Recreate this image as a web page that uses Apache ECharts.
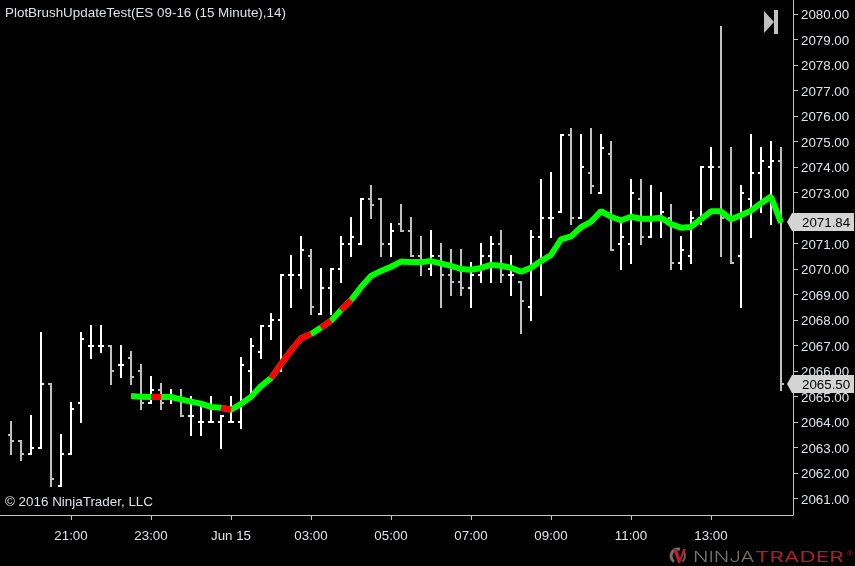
<!DOCTYPE html>
<html><head><meta charset="utf-8">
<style>html,body{margin:0;padding:0;background:#000}#c{width:855px;height:566px}</style>
<script src="https://cdn.jsdelivr.net/npm/echarts@6/dist/echarts.min.js"></script>
</head><body><div id="c"></div>
<script>
const opens=[2063.5,2063.25,2062.75,2063,2065.5,2061.5,2062.75,2064.75,2067,2067,2067,2066.25,2066.5,2066,2064.75,2065.25,2065,2065,2064.25,2064,2064,2064,2064,2064,2066,2066.75,2067.75,2068,2069.75,2069.75,2070.5,2068.25,2069.25,2070,2071,2071,2072.75,2072.75,2071,2071.75,2071.5,2070.5,2070,2070.5,2069.75,2069.5,2069.25,2069.75,2070.5,2071,2069.75,2069.5,2068.5,2071.25,2072,2072.25,2075.25,2072,2073.75,2073,2074.5,2071,2071,2072.75,2071.25,2072,2072,2070.25,2070.5,2072,2074,2074,2072,2070.5,2072.75,2073.75,2074,2074.25];
const highs=[2064,2063.25,2064.25,2067.5,2065.5,2063.5,2064.75,2067.5,2067.75,2067.75,2067,2067,2066.75,2066.25,2065.75,2065.5,2065.25,2065.25,2065,2064.75,2065,2064.25,2065,2066.5,2067.25,2067.75,2068.25,2069.75,2070.5,2071.25,2070.75,2070,2070,2071.25,2072,2072.75,2073.25,2072.75,2071.75,2072.5,2072,2071.25,2071.5,2071,2070.75,2070.75,2070.25,2071,2071.25,2071.5,2070.5,2069.5,2071.5,2073.5,2073.75,2075.25,2075.5,2075.25,2075.5,2075.25,2075,2072,2073.5,2073.5,2073.25,2073,2072.5,2071.25,2072.25,2074,2074.75,2079.5,2074.75,2073.25,2075.25,2074.75,2075,2074.75];
const lows=[2062.75,2062.5,2062.75,2063,2061.5,2061.5,2062.75,2064,2066.5,2066.75,2065.5,2065.75,2065.5,2064.5,2064.75,2064.5,2064.75,2064.25,2063.5,2063.5,2064,2063,2064,2063.75,2065,2066.5,2067.25,2066,2068.5,2069.25,2068.25,2068.25,2068.25,2069.5,2070.5,2071,2072,2070.5,2070.5,2071.5,2070.5,2069.75,2069.75,2068.5,2069,2069,2068.5,2069.5,2069.5,2069.5,2069,2067.5,2068,2069,2071.25,2072.25,2071.75,2072,2073,2073,2070.75,2070,2070.25,2071,2071.25,2071.25,2070,2070,2070.25,2071.75,2072.75,2070.5,2070.25,2068.5,2071.25,2072.25,2071.75,2065.25];
const closes=[2063.25,2062.75,2063,2065.5,2061.75,2062.75,2064.5,2067.25,2067,2067,2066,2066.25,2065.75,2064.75,2065.25,2064.75,2065,2064.25,2064.25,2064,2064,2064.25,2064,2066.25,2067,2067.75,2068,2069.75,2069.75,2070.75,2068.5,2069.25,2070,2071,2071.25,2072.75,2072.5,2071,2071.5,2071.5,2070.5,2070.25,2070.5,2069.75,2069.5,2069.25,2069.75,2070.5,2071,2069.75,2069.75,2068.75,2071.25,2072,2072,2075.25,2072,2074,2073.25,2074.75,2070.75,2071.25,2073,2071.25,2072,2072.25,2070.25,2070.75,2072,2074,2074,2072,2070.25,2073,2073.75,2074.25,2074.25,2065.5];
const smaStart=12;
const smaValues=[2065.02,2064.99,2064.98,2064.98,2064.98,2064.89,2064.80,2064.72,2064.59,2064.56,2064.48,2064.71,2064.99,2065.41,2065.72,2066.27,2066.80,2067.28,2067.45,2067.70,2067.97,2068.39,2068.78,2069.29,2069.73,2069.92,2070.09,2070.29,2070.27,2070.27,2070.31,2070.22,2070.12,2070.00,2069.97,2070.04,2070.16,2070.13,2070.05,2069.89,2070.05,2070.31,2070.55,2071.16,2071.28,2071.64,2071.85,2072.27,2072.05,2071.91,2072.05,2071.97,2071.97,2072.01,2071.76,2071.62,2071.65,2071.96,2072.26,2072.26,2071.95,2072.11,2072.29,2072.58,2072.84,2071.82];
const redSegmentEnds=[15,22,27,28,29,30,32,34];
const xTickIndex=[6,14,22,30,38,46,54,62,70];
const xTickLabels=['21:00','23:00','Jun 15','03:00','05:00','07:00','09:00','11:00','13:00'];
const priceTicks=[2061,2062,2063,2064,2065,2066,2067,2068,2069,2070,2071,2072,2073,2074,2075,2076,2077,2078,2079,2080];
const markerPrices=[2071.84,2065.50];
const titleText='PlotBrushUpdateTest(ES 09-16 (15 Minute),14)';
const copyrightText='© 2016 NinjaTrader, LLC';

const FONT='"Liberation Sans", Arial, sans-serif';
const TXT='#dfe3e8', AXIS='#c4c4c4', GRAY='#c0c0c0', GREEN='#00ff00', RED='#ff0000';
const Y_MIN=2060.353, Y_MAX=2080.549, LABEL_NUDGE=0.07;

const barData=opens.map((o,i)=>[i,o,highs[i],lows[i],closes[i]]);
const smaData=smaValues.map((v,i)=>[i+smaStart,v]);
const redData=[];
redSegmentEnds.forEach((e,k)=>{
  const prev=redSegmentEnds[k-1];
  if(k>0&&prev!==e-1) redData.push([e-1.5,null]);
  if(k===0||prev!==e-1) redData.push([e-1,smaValues[e-1-smaStart]]);
  redData.push([e,smaValues[e-smaStart]]);
});

const chart=echarts.init(document.getElementById('c'),null,{renderer:'canvas'});
function logoParts(){return [
  {type:'text',left:693,top:549.5,silent:true,scaleX:1.36,z:50,style:{text:'NINJA',fill:'#7a7674',font:'300 15px Inter, "Liberation Sans"'}},
  {type:'text',left:755,top:549.5,silent:true,scaleX:1.5,z:50,style:{text:'TRADER',fill:'#a8202a',font:'400 15px Inter, "Liberation Sans"'}},
  {type:'text',left:847,top:550,silent:true,z:50,style:{text:'®',fill:'#a8202a',font:'8px "Liberation Sans"'}},
  {type:'arc',silent:true,z:50,shape:{cx:678,cy:556,r:7,startAngle:2.2,endAngle:5.0},style:{stroke:'#7d6f66',lineWidth:3,fill:null}},
  {type:'arc',silent:true,z:50,shape:{cx:678,cy:556,r:7,startAngle:-0.6,endAngle:0.9},style:{stroke:'#6b5f58',lineWidth:2,fill:null}},
  {type:'polygon',silent:true,z:51,shape:{points:[[673,549],[677,549],[680,558],[683,549],[686,549],[680,563],[678,563]]},style:{fill:'#b3202a'}}
];}
chart.setOption({
  animation:false,backgroundColor:'#000',
  textStyle:{fontFamily:FONT},
  grid:{left:0,top:0,width:793,height:515,containLabel:false},
  xAxis:{type:'value',min:-1.1,max:78.2,splitLine:{show:false},
    axisLine:{show:true,lineStyle:{color:AXIS,width:1}},
    axisTick:{show:true,length:5,lineStyle:{color:AXIS,width:1},customValues:xTickIndex},
    axisLabel:{color:TXT,fontSize:13.33,fontFamily:FONT,margin:15,customValues:xTickIndex,
      formatter:v=>xTickLabels[xTickIndex.indexOf(v)]||''}},
  yAxis:[
   {type:'value',position:'right',min:Y_MIN,max:Y_MAX,splitLine:{show:false},
    axisLine:{show:true,onZero:false,lineStyle:{color:AXIS,width:1}},
    axisTick:{show:true,length:5,lineStyle:{color:AXIS,width:1},customValues:priceTicks},
    axisLabel:{show:false}},
   {type:'value',position:'right',min:Y_MIN+LABEL_NUDGE,max:Y_MAX+LABEL_NUDGE,splitLine:{show:false},
    axisLine:{show:false,onZero:false},axisTick:{show:false},
    axisLabel:{color:TXT,fontSize:13.33,fontFamily:FONT,margin:8,customValues:priceTicks,
      formatter:v=>v.toFixed(2)}}
  ],
  graphic:[
    {type:'text',left:5,top:7,silent:true,style:{text:titleText,fill:TXT,font:'13.42px '+FONT}},
    {type:'text',left:5,top:496,silent:true,style:{text:copyrightText,fill:TXT,font:'13.42px '+FONT}},
    {type:'polygon',silent:true,shape:{points:[[764,11],[774,22],[764,33]]},style:{fill:GRAY}},
    {type:'rect',silent:true,shape:{x:774,y:10,width:4,height:24},style:{fill:GRAY}},
    ...logoParts()
  ],
  series:[
    {type:'custom',clip:false,z:2,data:barData,encode:{x:0,y:[1,2,3,4]},
     renderItem:(p,api)=>{
       const i=api.value(0),o=api.value(1),h=api.value(2),l=api.value(3),c=api.value(4);
       const x=Math.round(api.coord([i,o])[0]);
       const yo=Math.round(api.coord([i,o])[1]),yc=Math.round(api.coord([i,c])[1]),
             yh=Math.round(api.coord([i,h])[1]),yl=Math.round(api.coord([i,l])[1]);
       const fill=c<o?GRAY:'#ffffff';
       const st={fill};
       return {type:'group',children:[
         {type:'rect',shape:{x:x-1,y:yh-1,width:2,height:yl-yh+2},style:st},
         {type:'rect',shape:{x:x-3,y:yo-1,width:2,height:2},style:st},
         {type:'rect',shape:{x:x+1,y:yc-1,width:2,height:2},style:st}
       ]};
     }},
    {type:'line',z:3,clip:false,showSymbol:false,data:smaData,lineStyle:{color:GREEN,width:6,cap:'butt',join:'bevel'},itemStyle:{color:GREEN}},
    {type:'line',z:4,clip:false,showSymbol:false,data:redData,connectNulls:false,lineStyle:{color:RED,width:6,cap:'butt',join:'bevel'},itemStyle:{color:RED}},
    {type:'custom',clip:false,z:20,data:markerPrices.map(v=>[78.2,v]),encode:{x:0,y:1},
     renderItem:(p,api)=>{
       const val=api.value(1),pt=api.coord([78.2,val]),y=Math.round(pt[1]);
       return {type:'group',children:[
         {type:'polygon',shape:{points:[[787,y],[792,y-9],[854,y-9],[854,y+9],[792,y+9]]},style:{fill:'#d4d4d4'}},
         {type:'text',x:802,y:y+1,style:{text:val.toFixed(2),fill:'#000',font:'13.33px '+FONT,verticalAlign:'middle',align:'left'}}
       ]};
     }}
  ]
});
</script></body></html>
